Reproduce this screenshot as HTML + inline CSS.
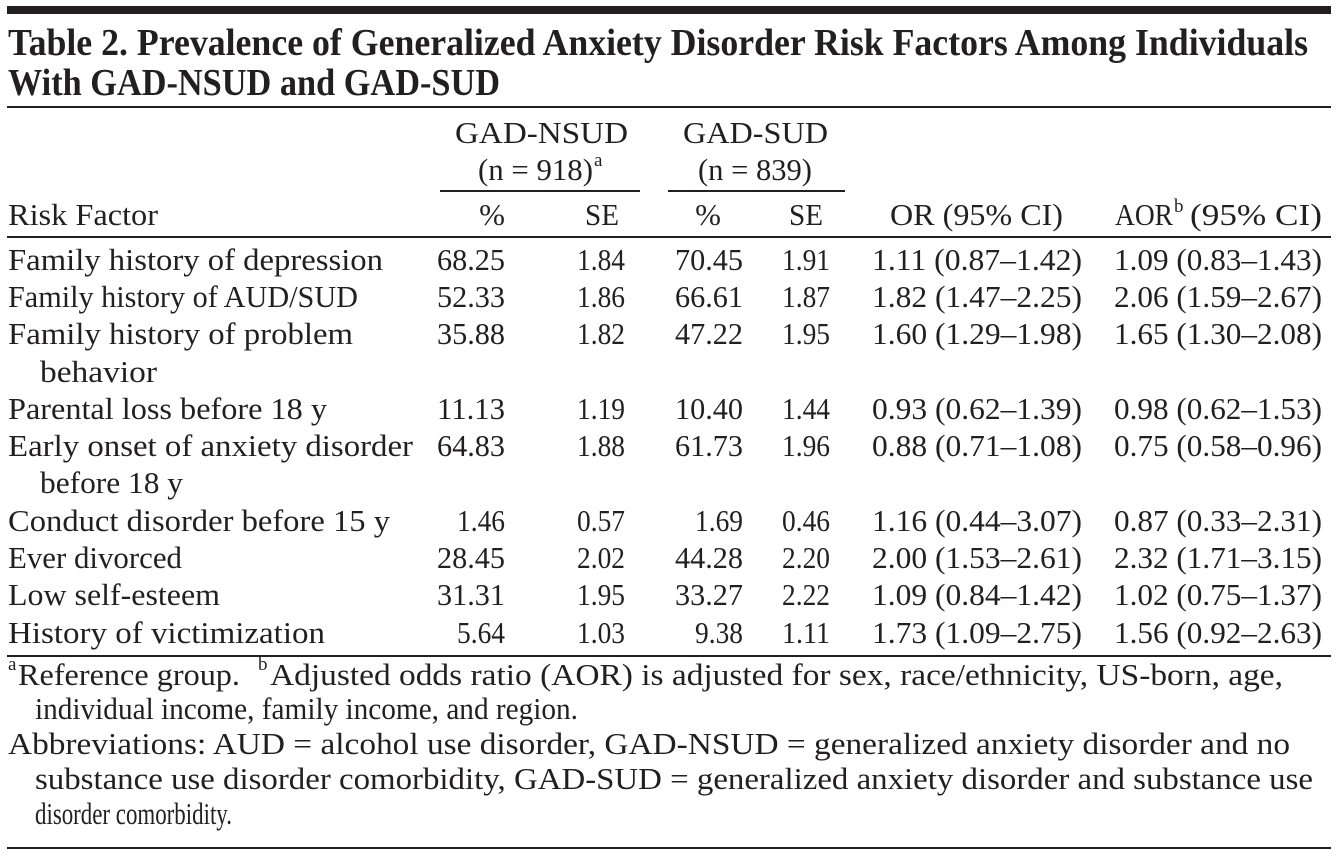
<!DOCTYPE html>
<html><head><meta charset="utf-8"><style>
html,body{margin:0;padding:0;background:#fff;width:1338px;height:861px;overflow:hidden}
svg{display:block}
text{font-family:"Liberation Serif",serif;fill:#231f20}
.b{font-size:31px}
.t{font-size:38px;font-weight:bold}
.s{font-size:19px}
</style></head><body>
<svg width="1338" height="861" viewBox="0 0 1338 861" xmlns="http://www.w3.org/2000/svg">
<rect x="7" y="6" width="1324" height="8" fill="#231f20"/>
<text class="t" x="8" y="55" textLength="1300" lengthAdjust="spacingAndGlyphs">Table 2. Prevalence of Generalized Anxiety Disorder Risk Factors Among Individuals</text>
<text class="t" x="8" y="95" textLength="492" lengthAdjust="spacingAndGlyphs">With GAD-NSUD and GAD-SUD</text>
<rect x="7" y="106" width="1324" height="2" fill="#231f20"/>
<text class="b" x="455" y="143" textLength="173" lengthAdjust="spacingAndGlyphs">GAD-NSUD</text>
<text class="b" x="478" y="180" textLength="115" lengthAdjust="spacingAndGlyphs">(n = 918)</text>
<text class="s" x="594" y="166">a</text>
<text class="b" x="683" y="143" textLength="145" lengthAdjust="spacingAndGlyphs">GAD-SUD</text>
<text class="b" x="698" y="180" textLength="114" lengthAdjust="spacingAndGlyphs">(n = 839)</text>
<rect x="440" y="190" width="200" height="2" fill="#231f20"/>
<rect x="668" y="190" width="177" height="2" fill="#231f20"/>
<text class="b" x="8" y="225" textLength="150" lengthAdjust="spacingAndGlyphs">Risk Factor</text>
<text class="b" x="492" y="225" text-anchor="middle">%</text>
<text class="b" x="602" y="225" text-anchor="middle" textLength="34" lengthAdjust="spacingAndGlyphs">SE</text>
<text class="b" x="708" y="225" text-anchor="middle">%</text>
<text class="b" x="806" y="225" text-anchor="middle" textLength="34" lengthAdjust="spacingAndGlyphs">SE</text>
<text class="b" x="890" y="225" textLength="173" lengthAdjust="spacingAndGlyphs">OR (95% CI)</text>
<text class="b" x="1115" y="225" textLength="58" lengthAdjust="spacingAndGlyphs">AOR</text>
<text class="s" x="1174" y="212">b</text>
<text class="b" x="1190" y="225" textLength="132" lengthAdjust="spacingAndGlyphs">(95% CI)</text>
<rect x="7" y="236" width="1324" height="2" fill="#231f20"/>

<text class="b" x="8" y="270" textLength="375" lengthAdjust="spacingAndGlyphs">Family history of depression</text>
<text class="b" x="8" y="307" textLength="350" lengthAdjust="spacingAndGlyphs">Family history of AUD/SUD</text>
<text class="b" x="8" y="344" textLength="345" lengthAdjust="spacingAndGlyphs">Family history of problem</text>
<text class="b" x="40" y="382" textLength="117" lengthAdjust="spacingAndGlyphs">behavior</text>
<text class="b" x="8" y="419" textLength="319" lengthAdjust="spacingAndGlyphs">Parental loss before 18 y</text>
<text class="b" x="8" y="456" textLength="405" lengthAdjust="spacingAndGlyphs">Early onset of anxiety disorder</text>
<text class="b" x="40" y="493" textLength="143" lengthAdjust="spacingAndGlyphs">before 18 y</text>
<text class="b" x="8" y="531" textLength="382" lengthAdjust="spacingAndGlyphs">Conduct disorder before 15 y</text>
<text class="b" x="8" y="568" textLength="174" lengthAdjust="spacingAndGlyphs">Ever divorced</text>
<text class="b" x="8" y="605" textLength="212" lengthAdjust="spacingAndGlyphs">Low self-esteem</text>
<text class="b" x="8" y="643" textLength="317" lengthAdjust="spacingAndGlyphs">History of victimization</text>

<g text-anchor="end">
<text class="b" x="505" y="270" textLength="68" lengthAdjust="spacingAndGlyphs">68.25</text><text class="b" x="625" y="270" textLength="48" lengthAdjust="spacingAndGlyphs">1.84</text><text class="b" x="743" y="270" textLength="68" lengthAdjust="spacingAndGlyphs">70.45</text><text class="b" x="830" y="270" textLength="48" lengthAdjust="spacingAndGlyphs">1.91</text><text class="b" x="1082" y="270" textLength="210" lengthAdjust="spacingAndGlyphs">1.11 (0.87–1.42)</text><text class="b" x="1322" y="270" textLength="208" lengthAdjust="spacingAndGlyphs">1.09 (0.83–1.43)</text>
<text class="b" x="505" y="307" textLength="68" lengthAdjust="spacingAndGlyphs">52.33</text><text class="b" x="625" y="307" textLength="48" lengthAdjust="spacingAndGlyphs">1.86</text><text class="b" x="743" y="307" textLength="68" lengthAdjust="spacingAndGlyphs">66.61</text><text class="b" x="830" y="307" textLength="48" lengthAdjust="spacingAndGlyphs">1.87</text><text class="b" x="1082" y="307" textLength="210" lengthAdjust="spacingAndGlyphs">1.82 (1.47–2.25)</text><text class="b" x="1322" y="307" textLength="208" lengthAdjust="spacingAndGlyphs">2.06 (1.59–2.67)</text>
<text class="b" x="505" y="344" textLength="68" lengthAdjust="spacingAndGlyphs">35.88</text><text class="b" x="625" y="344" textLength="48" lengthAdjust="spacingAndGlyphs">1.82</text><text class="b" x="743" y="344" textLength="68" lengthAdjust="spacingAndGlyphs">47.22</text><text class="b" x="830" y="344" textLength="48" lengthAdjust="spacingAndGlyphs">1.95</text><text class="b" x="1082" y="344" textLength="210" lengthAdjust="spacingAndGlyphs">1.60 (1.29–1.98)</text><text class="b" x="1322" y="344" textLength="208" lengthAdjust="spacingAndGlyphs">1.65 (1.30–2.08)</text>
<text class="b" x="505" y="419" textLength="68" lengthAdjust="spacingAndGlyphs">11.13</text><text class="b" x="625" y="419" textLength="48" lengthAdjust="spacingAndGlyphs">1.19</text><text class="b" x="743" y="419" textLength="68" lengthAdjust="spacingAndGlyphs">10.40</text><text class="b" x="830" y="419" textLength="48" lengthAdjust="spacingAndGlyphs">1.44</text><text class="b" x="1082" y="419" textLength="210" lengthAdjust="spacingAndGlyphs">0.93 (0.62–1.39)</text><text class="b" x="1322" y="419" textLength="208" lengthAdjust="spacingAndGlyphs">0.98 (0.62–1.53)</text>
<text class="b" x="505" y="456" textLength="68" lengthAdjust="spacingAndGlyphs">64.83</text><text class="b" x="625" y="456" textLength="48" lengthAdjust="spacingAndGlyphs">1.88</text><text class="b" x="743" y="456" textLength="68" lengthAdjust="spacingAndGlyphs">61.73</text><text class="b" x="830" y="456" textLength="48" lengthAdjust="spacingAndGlyphs">1.96</text><text class="b" x="1082" y="456" textLength="210" lengthAdjust="spacingAndGlyphs">0.88 (0.71–1.08)</text><text class="b" x="1322" y="456" textLength="208" lengthAdjust="spacingAndGlyphs">0.75 (0.58–0.96)</text>
<text class="b" x="505" y="531" textLength="48" lengthAdjust="spacingAndGlyphs">1.46</text><text class="b" x="625" y="531" textLength="48" lengthAdjust="spacingAndGlyphs">0.57</text><text class="b" x="743" y="531" textLength="48" lengthAdjust="spacingAndGlyphs">1.69</text><text class="b" x="830" y="531" textLength="48" lengthAdjust="spacingAndGlyphs">0.46</text><text class="b" x="1082" y="531" textLength="210" lengthAdjust="spacingAndGlyphs">1.16 (0.44–3.07)</text><text class="b" x="1322" y="531" textLength="208" lengthAdjust="spacingAndGlyphs">0.87 (0.33–2.31)</text>
<text class="b" x="505" y="568" textLength="68" lengthAdjust="spacingAndGlyphs">28.45</text><text class="b" x="625" y="568" textLength="48" lengthAdjust="spacingAndGlyphs">2.02</text><text class="b" x="743" y="568" textLength="68" lengthAdjust="spacingAndGlyphs">44.28</text><text class="b" x="830" y="568" textLength="48" lengthAdjust="spacingAndGlyphs">2.20</text><text class="b" x="1082" y="568" textLength="210" lengthAdjust="spacingAndGlyphs">2.00 (1.53–2.61)</text><text class="b" x="1322" y="568" textLength="208" lengthAdjust="spacingAndGlyphs">2.32 (1.71–3.15)</text>
<text class="b" x="505" y="605" textLength="68" lengthAdjust="spacingAndGlyphs">31.31</text><text class="b" x="625" y="605" textLength="48" lengthAdjust="spacingAndGlyphs">1.95</text><text class="b" x="743" y="605" textLength="68" lengthAdjust="spacingAndGlyphs">33.27</text><text class="b" x="830" y="605" textLength="48" lengthAdjust="spacingAndGlyphs">2.22</text><text class="b" x="1082" y="605" textLength="210" lengthAdjust="spacingAndGlyphs">1.09 (0.84–1.42)</text><text class="b" x="1322" y="605" textLength="208" lengthAdjust="spacingAndGlyphs">1.02 (0.75–1.37)</text>
<text class="b" x="505" y="643" textLength="48" lengthAdjust="spacingAndGlyphs">5.64</text><text class="b" x="625" y="643" textLength="48" lengthAdjust="spacingAndGlyphs">1.03</text><text class="b" x="743" y="643" textLength="48" lengthAdjust="spacingAndGlyphs">9.38</text><text class="b" x="830" y="643" textLength="48" lengthAdjust="spacingAndGlyphs">1.11</text><text class="b" x="1082" y="643" textLength="210" lengthAdjust="spacingAndGlyphs">1.73 (1.09–2.75)</text><text class="b" x="1322" y="643" textLength="208" lengthAdjust="spacingAndGlyphs">1.56 (0.92–2.63)</text>
</g>
<rect x="7" y="655" width="1324" height="2" fill="#231f20"/>

<text class="s" x="8" y="670">a</text>
<text class="b" x="18" y="685" textLength="222" lengthAdjust="spacingAndGlyphs">Reference group.</text>
<text class="s" x="258" y="670">b</text>
<text class="b" x="270" y="685" textLength="1013" lengthAdjust="spacingAndGlyphs">Adjusted odds ratio (AOR) is adjusted for sex, race/ethnicity, US-born, age,</text>
<text class="b" x="35" y="719" textLength="543" lengthAdjust="spacingAndGlyphs">individual income, family income, and region.</text>
<text class="b" x="8" y="754" textLength="1282" lengthAdjust="spacingAndGlyphs">Abbreviations: AUD = alcohol use disorder, GAD-NSUD = generalized anxiety disorder and no</text>
<text class="b" x="35" y="789" textLength="1278" lengthAdjust="spacingAndGlyphs">substance use disorder comorbidity, GAD-SUD = generalized anxiety disorder and substance use</text>
<text class="b" x="35" y="824" textLength="197" lengthAdjust="spacingAndGlyphs">disorder comorbidity.</text>
<rect x="7" y="847" width="1324" height="2" fill="#231f20"/>
</svg>
</body></html>
